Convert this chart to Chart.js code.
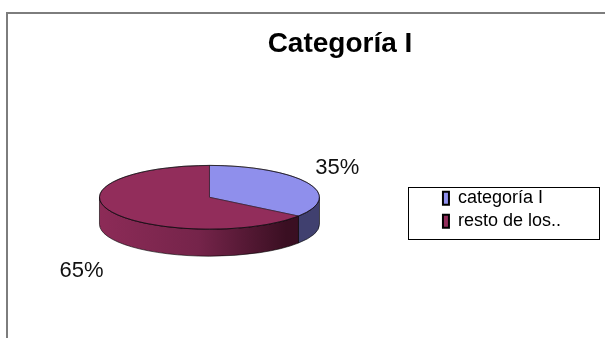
<!DOCTYPE html>
<html>
<head>
<meta charset="utf-8">
<script src="https://cdn.jsdelivr.net/npm/chart.js@4.4.1/dist/chart.umd.min.js"></script>
<style>
    body { margin: 0; background: #fff; overflow: hidden; }
    #moldura {
        position: absolute; left: 6px; top: 12px;
        width: 720px; height: 340px;
        border-left: 2px solid #7d7d7d; border-top: 2px solid #7d7d7d;
    }
    #grafico { position: absolute; left: -19px; top: 14px; }
</style>
</head>
<body>
<div id="moldura"></div>
<canvas id="grafico" width="718" height="324"></canvas>
<script>
// dados do gráfico
const categorias = ['categoría I', 'resto de los..'];
const porcentajes = [35, 65];
const coresTopo = ['#8F8FEC', '#922D5B'];

const INCLINACAO = 0.29    // achata o círculo em elipse
const PROFUNDIDADE = 27    // altura da lateral
const ESPACO_DIREITA = 128 // espaço à direita da legenda (gráfico cortado)
const FONTE = '"Liberation Sans", Arial, sans-serif'

// desenha a pizza "3D": lateral antes, tampa achatada depois
const pizza3d = {
    id: 'pizza3d',
    beforeInit(chart) {
        // caixa vazia à direita da legenda
        Chart.layouts.addBox(chart, {
            position: 'right',
            weight: 5000,
            fullSize: false,
            options: {},
            width: 0,
            height: 0,
            isHorizontal() { return false },
            update(maxWidth, maxHeight) { this.width = ESPACO_DIREITA; this.height = maxHeight },
            getPadding() { return { left: 0, right: 0, top: 0, bottom: 0 } },
            draw() {}
        })
    },
    beforeDatasetsDraw(chart) {
        const ctx = chart.ctx
        const arcos = chart.getDatasetMeta(0).data
        const { x, y, outerRadius } = arcos[0]
        const ry = outerRadius * INCLINACAO

        const grad = ctx.createLinearGradient(x - outerRadius, 0, x + outerRadius, 0)
        grad.addColorStop(0, '#8C2B57')
        grad.addColorStop(0.45, '#75244A')
        grad.addColorStop(0.85, '#3A0F22')
        const coresLado = ['#40406F', grad]

        arcos.forEach((arco, i) => {
            const ini = Math.max(arco.startAngle, 0)
            const fim = Math.min(arco.endAngle, Math.PI)
            if (fim <= ini) return
            ctx.beginPath()
            ctx.ellipse(x, y, outerRadius, ry, 0, ini, fim)
            ctx.ellipse(x, y + PROFUNDIDADE, outerRadius, ry, 0, fim, ini, true)
            ctx.closePath()
            ctx.fillStyle = coresLado[i]
            ctx.fill()
            ctx.strokeStyle = 'rgba(0,0,0,0.6)'
            ctx.lineWidth = 1
            ctx.stroke()
        })

        ctx.save()
        ctx.translate(x, y)
        ctx.scale(1, INCLINACAO)
        ctx.translate(-x, -y)
    },
    afterDatasetsDraw(chart) {
        const ctx = chart.ctx
        ctx.restore()
        const arcos = chart.getDatasetMeta(0).data
        const { x, y, outerRadius } = arcos[0]
        const ry = outerRadius * INCLINACAO

        // contorno da tampa
        ctx.beginPath()
        ctx.ellipse(x, y, outerRadius, ry, 0, 0, Math.PI * 2)
        ctx.strokeStyle = 'rgba(0,0,0,0.55)'
        ctx.lineWidth = 1
        ctx.stroke()

        // rótulos de porcentagem
        const total = porcentajes.reduce((a, b) => a + b, 0)
        ctx.font = '22px ' + FONTE
        ctx.fillStyle = '#111'
        ctx.textBaseline = 'middle'
        arcos.forEach((arco, i) => {
            const meio = (arco.startAngle + arco.endAngle) / 2
            const c = Math.cos(meio), s = Math.sin(meio)
            const lx = x + c * outerRadius * 1.08
            const ly = y + s * ry * 2 + (s > 0 ? PROFUNDIDADE + 18 : 0)
            ctx.textAlign = c >= 0 ? 'left' : 'right'
            ctx.fillText(Math.round(porcentajes[i] / total * 100) + '%', lx, ly)
        })
    },
    afterDraw(chart) {
        // caixa da legenda
        const caixas = chart.legend.legendHitBoxes
        if (!caixas || !caixas.length) return
        const ctx = chart.ctx
        const ult = caixas[caixas.length - 1]
        const esq = caixas[0].left - 35
        const topo = caixas[0].top - 2
        ctx.save()
        ctx.strokeStyle = '#000'
        ctx.lineWidth = 1
        ctx.strokeRect(Math.round(esq) + 0.5, Math.round(topo) + 0.5, 191, Math.round(ult.top + ult.height + 9 - topo))
        ctx.restore()
    }
}

const dados = {
    labels: categorias,
    datasets: [{
        data: porcentajes,
        backgroundColor: coresTopo,
        borderColor: '#2a1a2a',
        borderWidth: 1,
        radius: 110
    }]
}

const config = {
    type: 'pie',
    data: dados,
    options: {
        responsive: false,
        animation: false,
        events: [],
        layout: {
            padding: { left: 0, right: 0, top: 0, bottom: 4 }
        },
        plugins: {
            title: {
                display: true,
                text: 'Categoría I',
                color: '#000',
                font: { family: FONTE, size: 28, weight: 'bold' },
                padding: { top: 13, bottom: 0 }
            },
            legend: {
                position: 'right',
                fullSize: false,
                title: { display: true, text: '', padding: 0, font: { size: 25, lineHeight: 1 } },
                labels: {
                    color: '#000',
                    font: { family: FONTE, size: 18 },
                    boxWidth: 6,
                    boxHeight: 13,
                    padding: 5,
                    generateLabels(chart) {
                        const itens = Chart.overrides.pie.plugins.legend.labels.generateLabels(chart)
                        itens.forEach(it => { it.strokeStyle = '#000'; it.lineWidth = 2 })
                        return itens
                    }
                }
            },
            tooltip: { enabled: false }
        }
    },
    plugins: [pizza3d]
}

const grafico = new Chart(document.getElementById('grafico'), config)
</script>
</body>
</html>
